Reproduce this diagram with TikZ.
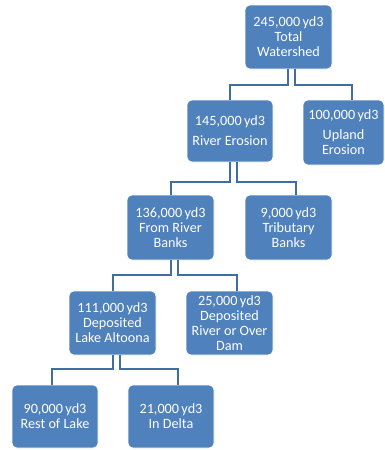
\documentclass[tikz,border=0pt]{standalone}
\usepackage{fontspec}
\setmainfont{Carlito}
\definecolor{boxblue}{HTML}{4F81BD}
\definecolor{lineblue}{HTML}{3F6E9F}
\begin{document}
\begin{tikzpicture}[x=1pt,y=-1pt,
  box/.style={draw=white, line width=0.6pt, fill=boxblue, rounded corners=5pt,
    text=white, align=center, minimum width=86pt, minimum height=64pt,
    inner sep=1pt, font=\fontsize{14.2}{15}\selectfont},
  conn/.style={draw=lineblue, line width=2pt}]
\useasboundingbox (0,0) rectangle (385,450);
\node[box, minimum width=87pt] (total) at (288.5,37) {245,000\,yd3\\Total\\Watershed};
\node[box, minimum height=62pt] (river) at (230,131) {145,000\,yd3\\[5pt]River Erosion};
\node[box, minimum width=81pt, minimum height=65pt] (upland) at (343.5,132.5) {100,000\,yd3\\[5pt]Upland\\Erosion};
\node[box, minimum width=87pt, minimum height=65pt] (banks) at (170.5,227.5) {136,000\,yd3\\From River\\Banks};
\node[box, minimum width=87pt, minimum height=65pt] (trib) at (288.5,227.5) {9,000\,yd3\\Tributary\\Banks};
\node[box, minimum width=87pt] (lake) at (112.5,323) {111,000\,yd3\\Deposited\\Lake Altoona};
\node[box, minimum width=87pt] (dam) at (229.5,323) {25,000\,yd3\\Deposited\\River or Over\\Dam};
\node[box, minimum height=63pt] (rest) at (55,416.5) {90,000\,yd3\\Rest of Lake};
\node[box, minimum height=63pt] (delta) at (171,416.5) {21,000\,yd3\\In Delta};
\coordinate (b0) at (0,85);
\coordinate (b1) at (0,182);
\coordinate (b2) at (0,275);
\coordinate (b3) at (0,369);
% level 0
\draw[conn] ([xshift=-1pt]total.south) -- ([xshift=-1pt]total.south |- b0) -| (river.north);
\draw[conn] ([xshift=6.5pt]total.south) -- ([xshift=6.5pt]total.south |- b0) -| ([xshift=8pt]upland.north);
% level 1
\draw[conn] (river.south) -- (river.south |- b1) -| (banks.north);
\draw[conn] ([xshift=7pt]river.south) -- ([xshift=7pt]river.south |- b1) -| ([xshift=7pt]trib.north);
% level 2
\draw[conn] (banks.south) -- (banks.south |- b2) -| (lake.north);
\draw[conn] ([xshift=7pt]banks.south) -- ([xshift=7pt]banks.south |- b2) -| ([xshift=7.5pt]dam.north);
% level 3
\draw[conn] (lake.south) -- (lake.south |- b3) -| ([xshift=-3pt]rest.north);
\draw[conn] ([xshift=7pt]lake.south) -- ([xshift=7pt]lake.south |- b3) -| ([xshift=7pt]delta.north);
\end{tikzpicture}
\end{document}
